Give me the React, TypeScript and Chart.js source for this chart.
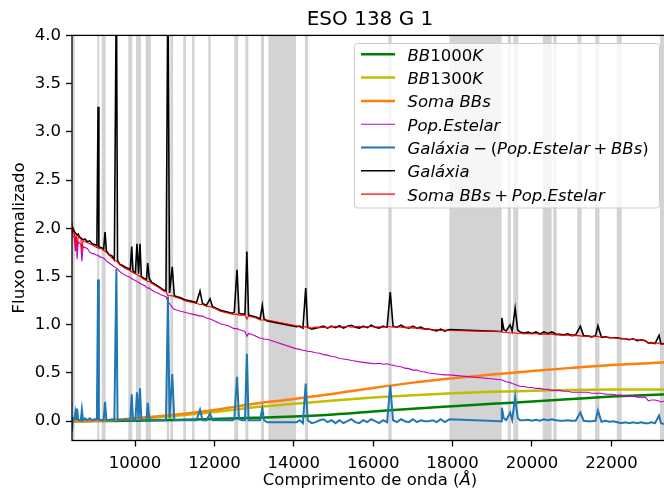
import React, { useEffect, useRef } from "react";
import { Chart, registerables } from "chart.js";
Chart.register(...registerables);

const FONT = "'DejaVu Sans', sans-serif";

// ---- wavelength grid (Å) of the observed spectrum (masked windows leave gaps) ----
const lam = [
  8413, 8440, 8470, 8498, 8520, 8542, 8570, 8600, 8635, 8662, 8690, 8740, 8800, 8860, 8920, 8990, 9040, 9069, 9090,
  9150, 9210, 9245, 9280, 9350, 9420, 9480, 9531, 9560, 9620, 9690, 9760, 9830, 9880, 9917, 9950, 10010,
  10049, 10090, 10126, 10160, 10230, 10290, 10320, 10360, 10420, 10500, 10580, 10650, 10720, 10780, 10830, 10870,
  10938, 10990, 11060, 11150, 11250, 11350, 11450, 11550, 11637, 11700, 11800, 11890, 11950,
  12050, 12150, 12250, 12350, 12450, 12500, 12570, 12620, 12700, 12770, 12818, 12860, 12950, 13050, 13150, 13207, 13250, 13330,
  14070, 14150, 14230, 14300, 14350, 14450, 14550, 14650, 14750, 14850, 14950, 15050, 15150, 15250, 15350, 15450, 15550, 15650, 15750, 15850, 15950, 16050,
  16150, 16250, 16350, 16430, 16500, 16600, 16700, 16800, 16900, 17000, 17100, 17200, 17300, 17400, 17500, 17600, 17700, 17800, 17920,
  19220, 19240, 19290, 19350, 19450, 19500, 19576, 19640, 19700, 19800, 19900, 20000, 20100, 20200, 20300, 20400, 20500, 20600,
  20700, 20800, 20900, 21000, 21100, 21218, 21300, 21400, 21500, 21600, 21661, 21750, 21850, 21950, 22050,
  22150, 22250, 22350, 22450, 22550, 22650, 22750, 22850, 22935, 23000, 23100, 23200, 23250, 23330, 23420,
];

// Galáxia (black)
const galaxia = [
  1.95, 2.00, 1.97, 1.95, 1.94, 1.93, 1.94, 1.91, 1.90, 1.89, 1.88, 1.89, 1.86, 1.87, 1.84, 1.83, 1.82, 3.26, 1.81,
  1.80, 1.785, 1.96, 1.765, 1.725, 1.715, 1.675, 4.60, 1.665, 1.625, 1.615, 1.595, 1.585, 1.565, 1.81, 1.555, 1.535,
  1.84, 1.53, 1.84, 1.50, 1.48, 1.47, 1.64, 1.48, 1.44, 1.42, 1.40, 1.38, 1.36, 1.35, 4.60, 1.33,
  1.60, 1.30, 1.29, 1.28, 1.26, 1.25, 1.24, 1.23, 1.35, 1.22, 1.20, 1.27, 1.19,
  1.17, 1.15, 1.14, 1.13, 1.12, 1.13, 1.57, 1.12, 1.11, 1.11, 1.76, 1.10, 1.09, 1.08, 1.06, 1.20, 1.06, 1.04,
  0.98, 0.985, 0.965, 1.38, 0.975, 0.955, 0.965, 0.975, 0.985, 0.965, 0.985, 0.97, 0.99, 0.965, 0.985, 0.995, 0.975, 0.965, 0.985, 0.97, 0.995, 0.975,
  0.965, 0.985, 0.975, 1.34, 0.985, 0.975, 0.995, 0.975, 0.965, 0.985, 0.965, 0.975, 0.955, 0.955, 0.945, 0.935, 0.955, 0.935, 0.95,
  0.93, 1.07, 0.95, 0.935, 1.00, 0.935, 1.17, 0.945, 0.925, 0.915, 0.925, 0.91, 0.925, 0.905, 0.925, 0.91, 0.925, 0.905,
  0.90, 0.895, 0.905, 0.89, 0.895, 0.985, 0.885, 0.885, 0.875, 0.885, 0.99, 0.87, 0.875, 0.865, 0.865,
  0.865, 0.855, 0.855, 0.845, 0.855, 0.835, 0.845, 0.835, 0.81, 0.815, 0.805, 0.89, 0.80, 0.805, 0.80,
];

// Soma BBs + Pop. Estelar (red)
const somaBBsPop = [
  2.06, 1.97, 1.95, 1.86, 1.93, 1.80, 1.92, 1.90, 1.89, 1.77, 1.87, 1.86, 1.85, 1.84, 1.83, 1.81, 1.80, 1.80, 1.79,
  1.79, 1.77, 1.76, 1.75, 1.72, 1.69, 1.67, 1.66, 1.65, 1.62, 1.60, 1.58, 1.57, 1.56, 1.55, 1.54, 1.53,
  1.52, 1.51, 1.50, 1.49, 1.47, 1.46, 1.45, 1.45, 1.43, 1.41, 1.39, 1.37, 1.35, 1.34, 1.30, 1.30,
  1.30, 1.29, 1.28, 1.27, 1.25, 1.24, 1.23, 1.22, 1.21, 1.21, 1.19, 1.19, 1.18,
  1.16, 1.14, 1.13, 1.12, 1.11, 1.11, 1.11, 1.10, 1.10, 1.10, 1.06, 1.09, 1.08, 1.07, 1.05, 1.05, 1.05, 1.05,
  0.99, 0.98, 0.975, 0.98, 0.97, 0.965, 0.975, 0.97, 0.975, 0.97, 0.98, 0.985, 0.975, 0.98, 0.985, 0.975, 0.98, 0.985, 0.975, 0.98, 0.985, 0.975,
  0.98, 0.975, 0.985, 0.98, 0.975, 0.98, 0.975, 0.97, 0.975, 0.965, 0.97, 0.96, 0.955, 0.955, 0.945, 0.95, 0.94, 0.945, 0.94,
  0.93, 0.93, 0.92, 0.925, 0.915, 0.92, 0.915, 0.91, 0.915, 0.905, 0.91, 0.905, 0.91, 0.90, 0.905, 0.90, 0.905, 0.895,
  0.895, 0.89, 0.895, 0.885, 0.89, 0.885, 0.88, 0.885, 0.875, 0.88, 0.875, 0.875, 0.87, 0.87, 0.865,
  0.86, 0.86, 0.855, 0.85, 0.85, 0.845, 0.84, 0.84, 0.81, 0.815, 0.81, 0.81, 0.80, 0.80, 0.80,
];

// Pop. Estelar (magenta)
const popEstelar = [
  2.00, 1.92, 1.90, 1.76, 1.88, 1.68, 1.86, 1.85, 1.83, 1.66, 1.81, 1.80, 1.79, 1.75, 1.74, 1.73, 1.72, 1.72, 1.71,
  1.70, 1.69, 1.68, 1.66, 1.64, 1.62, 1.60, 1.59, 1.58, 1.55, 1.53, 1.51, 1.50, 1.49, 1.48, 1.47, 1.46,
  1.45, 1.44, 1.43, 1.42, 1.41, 1.39, 1.38, 1.38, 1.36, 1.34, 1.33, 1.31, 1.30, 1.29, 1.24, 1.22,
  1.18, 1.16, 1.15, 1.14, 1.13, 1.12, 1.11, 1.10, 1.09, 1.09, 1.07, 1.06, 1.05,
  1.03, 1.01, 1.00, 0.99, 0.97, 0.96, 0.96, 0.95, 0.94, 0.93, 0.88, 0.91, 0.90, 0.88, 0.86, 0.86, 0.85, 0.85,
  0.75, 0.745, 0.735, 0.73, 0.725, 0.72, 0.71, 0.705, 0.69, 0.685, 0.67, 0.665, 0.65, 0.645, 0.64, 0.63, 0.625, 0.615, 0.61, 0.605, 0.60, 0.595,
  0.60, 0.59, 0.595, 0.585, 0.58, 0.57, 0.565, 0.55, 0.545, 0.53, 0.53, 0.515, 0.51, 0.50, 0.495, 0.49, 0.485, 0.48, 0.48,
  0.43, 0.43, 0.42, 0.41, 0.40, 0.39, 0.38, 0.37, 0.36, 0.36, 0.35, 0.35, 0.34, 0.34, 0.33, 0.33, 0.32, 0.32,
  0.32, 0.31, 0.31, 0.30, 0.30, 0.30, 0.30, 0.30, 0.29, 0.29, 0.29, 0.29, 0.28, 0.28, 0.28,
  0.27, 0.27, 0.26, 0.26, 0.26, 0.25, 0.25, 0.25, 0.21, 0.22, 0.22, 0.21, 0.20, 0.21, 0.21,
];

// Galáxia − (Pop. Estelar + BBs) (blue)
const residuo = [
  -0.11, 0.03, 0.02, 0.09, 0.01, 0.13, 0.02, 0.01, 0.01, 0.12, 0.01, 0.03, 0.01, 0.03, 0.01, 0.02, 0.02, 1.47, 0.02,
  0.01, 0.01, 0.20, 0.01, 0.01, 0.02, 0.01, 1.58, 0.01, 0.01, 0.01, 0.02, 0.01, 0.01, 0.28, 0.01, 0.01,
  0.30, 0.02, 0.34, 0.01, 0.01, 0.01, 0.19, 0.03, 0.01, 0.01, 0.01, 0.01, 0.01, 0.01, 1.29, 0.03,
  0.49, 0.01, 0.01, 0.01, 0.01, 0.01, 0.01, 0.01, 0.12, 0.01, 0.01, 0.08, 0.01,
  0.01, 0.01, 0.01, 0.01, 0.01, 0.02, 0.46, 0.02, 0.01, 0.01, 0.70, 0.01, 0.01, 0.01, 0.01, 0.13, 0.01, -0.01,
  -0.01, 0.01, -0.02, 0.39, 0.01, -0.02, -0.01, 0.01, 0.02, -0.01, 0.01, -0.02, 0.01, -0.02, 0.00, 0.02, -0.01, -0.02, 0.01, -0.01, 0.02, 0.00,
  -0.02, 0.01, -0.01, 0.37, 0.01, -0.01, 0.02, 0.00, -0.01, 0.02, -0.01, 0.01, 0.00, 0.00, 0.01, -0.01, 0.02, -0.01, 0.02,
  0.00, 0.14, 0.03, 0.01, 0.09, 0.015, 0.25, 0.035, 0.01, 0.01, 0.015, 0.005, 0.015, 0.005, 0.02, 0.01, 0.02, 0.01,
  0.005, 0.005, 0.01, 0.005, 0.005, 0.09, 0.005, 0.00, 0.00, 0.005, 0.11, -0.005, 0.005, -0.005, 0.00,
  -0.01, -0.02, -0.01, -0.02, -0.01, -0.02, -0.01, -0.02, -0.02, -0.01, -0.02, 0.06, -0.02, -0.03, -0.03,
];

// ---- blackbody components ----
const bbLam = [8413, 9000, 9500, 10000, 11000, 12000, 13000, 14000, 15000, 16000, 17000, 18000, 19000, 20000, 21000, 22000, 23420];
const bb1000 = [0.0, 0.001, 0.003, 0.006, 0.012, 0.022, 0.035, 0.05, 0.07, 0.10, 0.13, 0.155, 0.18, 0.205, 0.23, 0.255, 0.28];
const bb1300 = [0.0, 0.004, 0.012, 0.025, 0.055, 0.095, 0.145, 0.18, 0.215, 0.245, 0.27, 0.29, 0.305, 0.315, 0.323, 0.328, 0.33];
const somaBBs = [0.0, 0.005, 0.015, 0.031, 0.067, 0.117, 0.18, 0.23, 0.285, 0.345, 0.40, 0.445, 0.485, 0.52, 0.553, 0.583, 0.61];

// ---- masked windows (grey spans), Å ----
const maskStart = [8415, 9050, 9160, 9830, 10025, 10270, 10800, 10890, 11215, 11435, 11845, 12500, 12780, 13175, 13360, 14280, 16380, 17920, 19390, 19530, 20270, 20535, 21140, 21590, 22135, 23225];
const maskEnd = [8480, 9100, 9260, 9930, 10150, 10400, 10860, 10960, 11285, 11500, 11905, 12600, 12855, 13250, 14055, 14360, 16465, 19235, 19470, 19655, 20495, 20620, 21250, 21700, 22260, 23325];

// ---- axes ----
const xMin = 8413;
const xMax = 23426;
const yMin = -0.2;
const yMax = 4.0;
const xTicks = [10000, 12000, 14000, 16000, 18000, 20000, 22000];
const yTicks = [0.0, 0.5, 1.0, 1.5, 2.0, 2.5, 3.0, 3.5, 4.0];

const titleText = "ESO 138 G 1";
const yLabelText = "Fluxo normalizado";
const xLabelParts: [string, string][] = [["Comprimento de onda (", "n"], ["Å", "i"], [")", "n"]];

// label segments: i = italic, n = upright, o = binary operator
const legendLabels: [string, string][][] = [
  [["BB", "i"], ["1000", "n"], ["K", "i"]],
  [["BB", "i"], ["1300", "n"], ["K", "i"]],
  [["Soma BBs", "i"]],
  [["Pop.Estelar", "i"]],
  [["Galáxia", "i"], ["−", "o"], ["(", "n"], ["Pop.Estelar", "i"], ["+", "o"], ["BBs", "i"], [")", "n"]],
  [["Galáxia", "i"]],
  [["Soma BBs", "i"], ["+", "o"], ["Pop.Estelar", "i"]],
];

const C_GREEN = "#008000";
const C_YELLOW = "#bfbf00";
const C_ORANGE = "#ff7f0e";
const C_MAGENTA = "#bf00bf";
const C_BLUE = "#1f77b4";
const C_BLACK = "#000000";
const C_RED = "#ff0000";

const FS = 16.5;

function drawRich(ctx: CanvasRenderingContext2D, parts: [string, string][], x: number, y: number, size: number) {
  let cx = x;
  for (const [t, s] of parts) {
    ctx.font = `${s === "i" ? "italic " : ""}${size}px ${FONT}`;
    if (s === "o") cx += 0.22 * size;
    ctx.fillText(t, cx, y);
    cx += ctx.measureText(t).width;
    if (s === "o") cx += 0.22 * size;
  }
  return cx - x;
}

function measureRich(ctx: CanvasRenderingContext2D, parts: [string, string][], size: number) {
  let w = 0;
  for (const [t, s] of parts) {
    ctx.font = `${s === "i" ? "italic " : ""}${size}px ${FONT}`;
    w += ctx.measureText(t).width;
    if (s === "o") w += 0.44 * size;
  }
  return w;
}

export default function App() {
  const ref = useRef<HTMLCanvasElement | null>(null);

  useEffect(() => {
    const canvas = ref.current;
    if (!canvas) return;

    const pts = (xs: number[], ys: number[]) => xs.map((x, i) => ({ x, y: ys[i] }));

    const legendColors = [C_GREEN, C_YELLOW, C_ORANGE, C_MAGENTA, C_BLUE, C_BLACK, C_RED];
    const legendWidths = [2.5, 2.5, 2.5, 1.1, 2.0, 1.6, 1.1];

    const decor = {
      id: "decor",
      beforeDraw(chart: any) {
        const ctx = chart.ctx;
        ctx.save();
        ctx.fillStyle = "#ffffff";
        ctx.fillRect(0, 0, chart.width, chart.height);
        ctx.restore();
      },
      beforeDatasetsDraw(chart: any) {
        const { ctx, chartArea, scales } = chart;
        const xs = scales.x;
        ctx.save();
        ctx.fillStyle = "#d3d3d3";
        for (let i = 0; i < maskStart.length; i++) {
          let a = xs.getPixelForValue(maskStart[i]);
          let b = xs.getPixelForValue(maskEnd[i]);
          a = Math.max(a, chartArea.left);
          b = Math.min(b, chartArea.right);
          if (b > a) ctx.fillRect(a, chartArea.top, b - a, chartArea.bottom - chartArea.top);
        }
        ctx.restore();
      },
      afterDatasetsDraw(chart: any) {
        const { ctx, chartArea } = chart;
        ctx.save();
        // spines
        ctx.strokeStyle = "#000";
        ctx.lineWidth = 1.3;
        ctx.strokeRect(chartArea.left, chartArea.top, chartArea.right - chartArea.left, chartArea.bottom - chartArea.top);

        // legend
        const bx = 354.5, by = 43.5, bw = 305, bh = 164.5, r = 3;
        ctx.beginPath();
        ctx.moveTo(bx + r, by);
        ctx.lineTo(bx + bw - r, by);
        ctx.quadraticCurveTo(bx + bw, by, bx + bw, by + r);
        ctx.lineTo(bx + bw, by + bh - r);
        ctx.quadraticCurveTo(bx + bw, by + bh, bx + bw - r, by + bh);
        ctx.lineTo(bx + r, by + bh);
        ctx.quadraticCurveTo(bx, by + bh, bx, by + bh - r);
        ctx.lineTo(bx, by + r);
        ctx.quadraticCurveTo(bx, by, bx + r, by);
        ctx.closePath();
        ctx.fillStyle = "rgba(255,255,255,0.8)";
        ctx.fill();
        ctx.strokeStyle = "#cccccc";
        ctx.lineWidth = 1;
        ctx.stroke();

        ctx.textBaseline = "alphabetic";
        ctx.textAlign = "left";
        ctx.fillStyle = "#000";
        for (let i = 0; i < legendLabels.length; i++) {
          const cy = 54.3 + i * 23.3;
          ctx.strokeStyle = legendColors[i];
          ctx.lineWidth = legendWidths[i];
          ctx.beginPath();
          ctx.moveTo(361, cy);
          ctx.lineTo(395, cy);
          ctx.stroke();
          drawRich(ctx, legendLabels[i], 407.5, cy + 6.5, FS);
        }
        ctx.restore();
      },
      afterDraw(chart: any) {
        const { ctx, chartArea } = chart;
        ctx.save();
        ctx.fillStyle = "#000";
        ctx.textBaseline = "alphabetic";
        // title
        ctx.font = `20px ${FONT}`;
        ctx.textAlign = "center";
        const cx = (chartArea.left + chartArea.right) / 2;
        ctx.fillText(titleText, cx, 25);
        // x label
        ctx.textAlign = "left";
        const w = measureRich(ctx, xLabelParts, FS);
        drawRich(ctx, xLabelParts, cx - w / 2, 485, FS);
        // y label
        ctx.translate(24, (chartArea.top + chartArea.bottom) / 2);
        ctx.rotate(-Math.PI / 2);
        ctx.font = `${FS}px ${FONT}`;
        ctx.textAlign = "center";
        ctx.fillText(yLabelText, 0, 0);
        ctx.restore();
      },
    };

    const chart = new Chart(canvas, {
      type: "line",
      data: {
        datasets: [
          { label: "BB1000K", data: pts(bbLam, bb1000), borderColor: C_GREEN, borderWidth: 2.5, pointRadius: 0, cubicInterpolationMode: "monotone", order: 6 },
          { label: "BB1300K", data: pts(bbLam, bb1300), borderColor: C_YELLOW, borderWidth: 2.5, pointRadius: 0, cubicInterpolationMode: "monotone", order: 5 },
          { label: "Soma BBs", data: pts(bbLam, somaBBs), borderColor: C_ORANGE, borderWidth: 2.5, pointRadius: 0, cubicInterpolationMode: "monotone", order: 4 },
          { label: "Pop.Estelar", data: pts(lam, popEstelar), borderColor: C_MAGENTA, borderWidth: 1.1, pointRadius: 0, tension: 0, order: 3 },
          { label: "Galáxia − (Pop.Estelar + BBs)", data: pts(lam, residuo), borderColor: C_BLUE, borderWidth: 2.0, pointRadius: 0, tension: 0, order: 2 },
          { label: "Galáxia", data: pts(lam, galaxia), borderColor: C_BLACK, borderWidth: 1.6, pointRadius: 0, tension: 0, order: 1 },
          { label: "Soma BBs + Pop.Estelar", data: pts(lam, somaBBsPop), borderColor: C_RED, borderWidth: 1.1, pointRadius: 0, tension: 0, order: 0 },
        ] as any,
      },
      options: {
        animation: false,
        responsive: false,
        devicePixelRatio: 1,
        events: [],
        layout: { padding: { left: 0, top: 35.4, right: 12, bottom: 0 } },
        plugins: { legend: { display: false }, title: { display: false }, tooltip: { enabled: false } },
        scales: {
          x: {
            type: "linear",
            min: xMin,
            max: xMax,
            afterBuildTicks: (s: any) => { s.ticks = xTicks.map((v) => ({ value: v })); },
            afterFit: (s: any) => { s.height = 49.5; },
            grid: { display: true, drawOnChartArea: false, drawTicks: true, tickLength: 6, tickWidth: 1.3, tickColor: "#000" },
            border: { display: false },
            ticks: { color: "#000", font: { family: FONT, size: FS }, padding: 7, maxRotation: 0, autoSkip: false, callback: (v: any) => String(v) },
          },
          y: {
            type: "linear",
            min: yMin,
            max: yMax,
            afterBuildTicks: (s: any) => { s.ticks = yTicks.map((v) => ({ value: v })); },
            afterFit: (s: any) => { s.width = 72; },
            grid: { display: true, drawOnChartArea: false, drawTicks: true, tickLength: 6, tickWidth: 1.3, tickColor: "#000" },
            border: { display: false },
            ticks: { color: "#000", font: { family: FONT, size: FS }, padding: 5, autoSkip: false, callback: (v: any) => Number(v).toFixed(1) },
          },
        },
      } as any,
      plugins: [decor],
    });

    return () => chart.destroy();
  }, []);

  return (
    <div style={{ position: "fixed", left: 0, top: 0, width: 664, height: 490, overflow: "hidden", background: "#fff" }}>
      <canvas ref={ref} width={680} height={490} style={{ display: "block", width: 680, height: 490 }} />
    </div>
  );
}
